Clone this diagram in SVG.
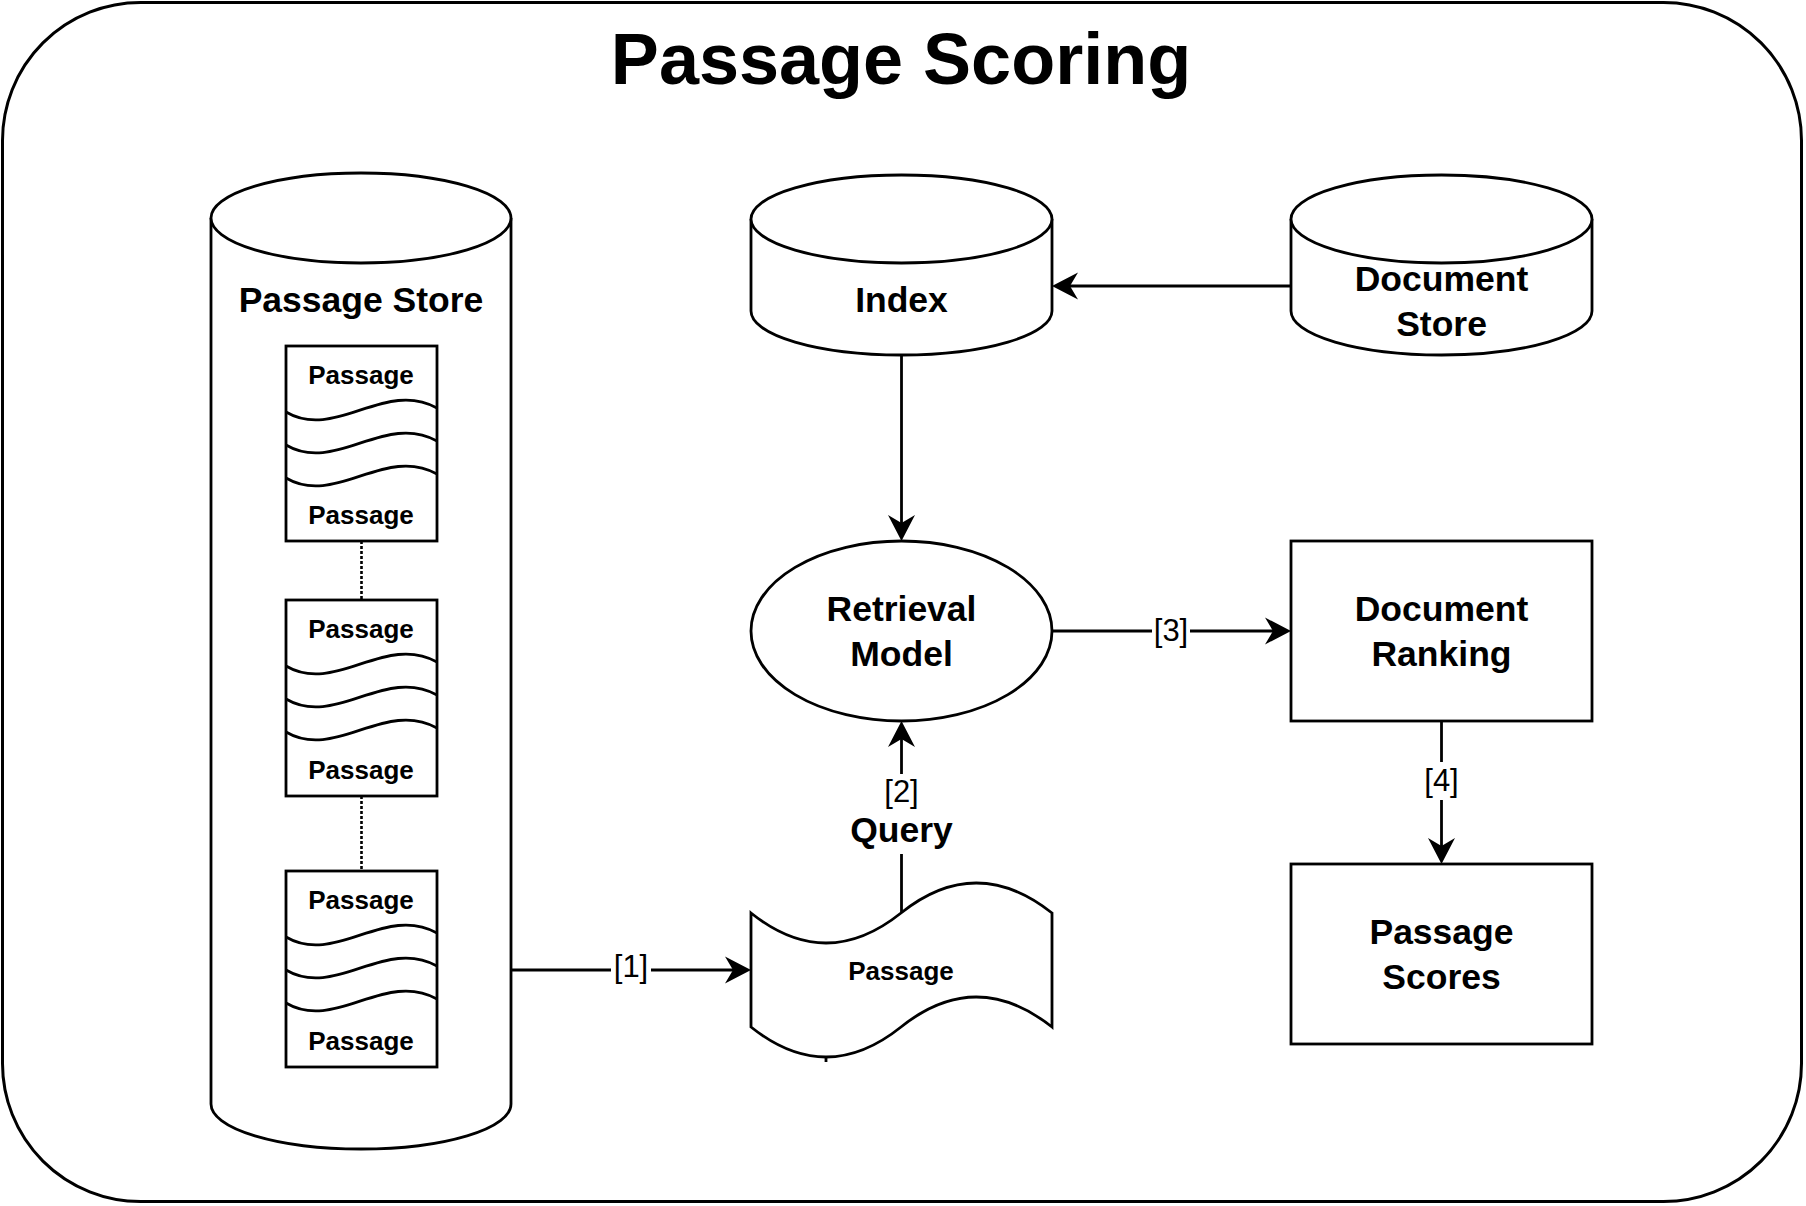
<svg xmlns="http://www.w3.org/2000/svg" width="1806" height="1206" viewBox="0 0 1806 1206">
<style>
.sh{fill:#fff;stroke:#000;stroke-width:2.8}
.ln{fill:none;stroke:#000;stroke-width:2.8}
.lbl{font-family:"Liberation Sans",Arial,sans-serif;font-weight:bold;font-size:35.5px;text-anchor:middle;fill:#000}
.sm{font-family:"Liberation Sans",Arial,sans-serif;font-weight:bold;font-size:26px;text-anchor:middle;fill:#000}
.el{font-family:"Liberation Sans",Arial,sans-serif;font-size:31px;text-anchor:middle;fill:#000}
.title{font-family:"Liberation Sans",Arial,sans-serif;font-weight:bold;font-size:72px;text-anchor:middle;fill:#000}
.dot{fill:none;stroke:#000;stroke-width:2.6;stroke-dasharray:3 2}
</style>
<defs>
<marker id="arr" markerUnits="userSpaceOnUse" viewBox="-10 -15 30 30" markerWidth="30" markerHeight="30" refX="0" refY="0" orient="auto">
<path d="M18,0 L-8,-13.5 L0,0 L-8,13.5 Z" fill="#000"/>
</marker>
</defs>
<rect id="frame" x="2.5" y="2.5" width="1799" height="1199" rx="138" ry="138" fill="#fff" stroke="#000" stroke-width="3"/>
<text class="title" x="901" y="84">Passage Scoring</text>

<g id="passage-store">
<path class="sh" d="M211,218 V1104 A150,45 0 0 0 511,1104 V218"/>
<ellipse class="sh" cx="361" cy="218" rx="150" ry="45"/>
<text class="lbl" x="361" y="312">Passage Store</text>
</g>

<g id="passage-doc-1">
<rect class="sh" x="286" y="346" width="151" height="195"/>
<path class="ln" d="M286,412 C335,441 385,379 437,408"/>
<path class="ln" d="M286,445 C335,474 385,412 437,441"/>
<path class="ln" d="M286,478 C335,507 385,445 437,474"/>
<text class="sm" x="361" y="384">Passage</text>
<text class="sm" x="361" y="524">Passage</text>
</g>
<g id="passage-doc-2">
<rect class="sh" x="286" y="600" width="151" height="196"/>
<path class="ln" d="M286,666 C335,695 385,633 437,662"/>
<path class="ln" d="M286,699 C335,728 385,666 437,695"/>
<path class="ln" d="M286,732 C335,761 385,699 437,728"/>
<text class="sm" x="361" y="638">Passage</text>
<text class="sm" x="361" y="779">Passage</text>
</g>
<g id="passage-doc-3">
<rect class="sh" x="286" y="871" width="151" height="196"/>
<path class="ln" d="M286,937 C335,966 385,904 437,933"/>
<path class="ln" d="M286,970 C335,999 385,937 437,966"/>
<path class="ln" d="M286,1003 C335,1032 385,970 437,999"/>
<text class="sm" x="361" y="909">Passage</text>
<text class="sm" x="361" y="1050">Passage</text>
</g>

<g id="index">
<path class="sh" d="M751,219 V311 A150.5,44 0 0 0 1052,311 V219"/>
<ellipse class="sh" cx="901.5" cy="219" rx="150.5" ry="44"/>
<text class="lbl" x="901.5" y="312">Index</text>
</g>

<g id="document-store">
<path class="sh" d="M1291,219 V311 A150.5,44 0 0 0 1592,311 V219"/>
<ellipse class="sh" cx="1441.5" cy="219" rx="150.5" ry="44"/>
<text class="lbl" x="1441.5" y="291">Document</text>
<text class="lbl" x="1441.5" y="336">Store</text>
</g>

<g id="retrieval-model">
<ellipse class="sh" cx="901.5" cy="631" rx="150.5" ry="90"/>
<text class="lbl" x="901.5" y="621">Retrieval</text>
<text class="lbl" x="901.5" y="666">Model</text>
</g>

<g id="document-ranking">
<rect class="sh" x="1291" y="541" width="301" height="180"/>
<text class="lbl" x="1441.5" y="621">Document</text>
<text class="lbl" x="1441.5" y="666">Ranking</text>
</g>

<g id="passage-scores">
<rect class="sh" x="1291" y="864" width="301" height="180"/>
<text class="lbl" x="1441.5" y="944">Passage</text>
<text class="lbl" x="1441.5" y="989">Scores</text>
</g>

<g id="passage-query">
<path class="sh" d="M751,913 Q826,973 901,913 Q976,853 1052,913 L1052,1027 Q976,967 901,1027 Q826,1087 751,1027 Z"/>
<line class="ln" x1="826" y1="1056" x2="826" y2="1062" stroke-width="2"/>
<text class="sm" x="901" y="980">Passage</text>
</g>

<g id="connectors">
<line class="dot" x1="361.5" y1="541" x2="361.5" y2="600"/>
<line class="dot" x1="361.5" y1="796" x2="361.5" y2="871"/>
<line class="ln" x1="511" y1="970" x2="733" y2="970" marker-end="url(#arr)"/>
<line class="ln" x1="901.5" y1="913" x2="901.5" y2="739" marker-end="url(#arr)"/>
<line class="ln" x1="901.5" y1="355" x2="901.5" y2="523" marker-end="url(#arr)"/>
<line class="ln" x1="1291" y1="286" x2="1070" y2="286" marker-end="url(#arr)"/>
<line class="ln" x1="1052" y1="631" x2="1273" y2="631" marker-end="url(#arr)"/>
<line class="ln" x1="1441.5" y1="721" x2="1441.5" y2="846" marker-end="url(#arr)"/>
<rect x="611" y="950" width="40" height="38" fill="#fff"/>
<text class="el" x="631" y="976.5" font-size="34">[1]</text>
<rect x="849" y="774" width="105" height="80" fill="#fff"/>
<text class="el" x="901.5" y="802">[2]</text>
<text class="lbl" x="901.5" y="842">Query</text>
<rect x="1152" y="614" width="38" height="36" fill="#fff"/>
<text class="el" x="1171" y="640.5">[3]</text>
<rect x="1421" y="762" width="41" height="38" fill="#fff"/>
<text class="el" x="1441.5" y="790.5">[4]</text>
</g>
</svg>
